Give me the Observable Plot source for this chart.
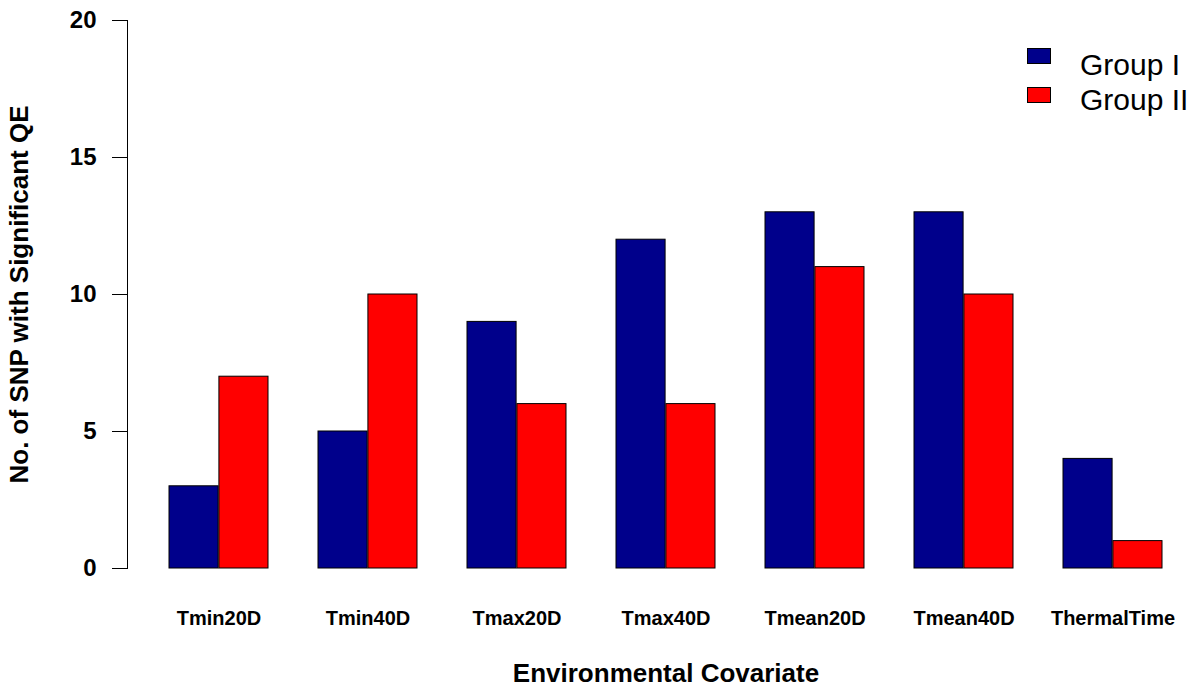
<!DOCTYPE html>
<html>
<head>
<meta charset="utf-8">
<script src="https://cdn.jsdelivr.net/npm/d3@7"></script>
<script src="https://cdn.jsdelivr.net/npm/@observablehq/plot@0.6"></script>
<style>
  body { margin: 0; background: #fff; }
  #wrap { position: relative; width: 1198px; height: 692px; font-family: "Liberation Sans", Arial, sans-serif; }
  .sw { position: absolute; width: 22px; height: 14px; border: 1px solid #000; }
  .lt { position: absolute; font-size: 30px; line-height: 30px; color: #000; white-space: nowrap; }
</style>
</head>
<body>
<div id="wrap"></div>
<script>
// ---- data ----
const covariates = ["Tmin20D", "Tmin40D", "Tmax20D", "Tmax40D", "Tmean20D", "Tmean40D", "ThermalTime"];
const groups = ["Group I", "Group II"];
const groupI = [3, 5, 9, 12, 13, 13, 4];
const groupII = [7, 10, 6, 6, 11, 10, 1];
const yTicks = [0, 5, 10, 15, 20];
const colors = ["#00008B", "#FF0000"];
const xTitle = "Environmental Covariate";
const yTitle = "No. of SNP with Significant QE";

const data = covariates.flatMap((c, i) => [
  {covariate: c, group: groups[0], value: groupI[i]},
  {covariate: c, group: groups[1], value: groupII[i]}
]);

// ---- layout ----
const W = 1198, H = 692;
const xRange = [127, 1205];          // plot region (extends slightly past the right edge, as in the original)
const padIn = 1 / 3, padOut = 0.8 / 3;
const step = (xRange[1] - xRange[0]) / (covariates.length - padIn + 2 * padOut);
const half = step * (1 - padIn) / 2;

const plot = Plot.plot({
  width: W, height: H,
  marginLeft: 127, marginRight: 0, marginTop: 20, marginBottom: 124,
  style: {fontFamily: "Liberation Sans, Arial, sans-serif", color: "black", background: "white"},
  x: {domain: covariates, range: xRange, paddingInner: padIn, paddingOuter: padOut, axis: null},
  y: {domain: [0, 20], axis: null},
  color: {domain: groups, range: colors},
  marks: [
    Plot.barY(data.filter(d => d.group === groups[0]),
      {x: "covariate", y: "value", fill: "group", stroke: "black", strokeWidth: 1, insetLeft: 0, insetRight: half}),
    Plot.barY(data.filter(d => d.group === groups[1]),
      {x: "covariate", y: "value", fill: "group", stroke: "black", strokeWidth: 1, insetLeft: half, insetRight: 0}),
    Plot.frame({anchor: "left", stroke: "black"}),
    Plot.axisY({ticks: yTicks, tickSize: 15, tickPadding: 16, fontSize: 24, fontWeight: "bold", label: null}),
    Plot.axisX({tickSize: 0, tickPadding: 42, fontSize: 20, fontWeight: "bold", label: null}),
    Plot.text([xTitle], {text: d => d, frameAnchor: "bottom", lineAnchor: "top", dy: 95, dx: 3, fontSize: 26, fontWeight: "bold"}),
    Plot.text([yTitle], {text: d => d, frameAnchor: "left", textAnchor: "middle", lineAnchor: "middle", rotate: -90, dx: -108, fontSize: 26, fontWeight: "bold"})
  ]
});

const wrap = document.getElementById("wrap");
wrap.appendChild(plot);

// ---- legend (top right, inside plot) ----
const legendRows = [
  {swTop: 48, txtTop: 50},
  {swTop: 87, txtTop: 85}
];
groups.forEach((g, i) => {
  const sw = document.createElement("div");
  sw.className = "sw";
  sw.style.left = "1027px";
  sw.style.top = legendRows[i].swTop + "px";
  sw.style.background = colors[i];
  wrap.appendChild(sw);
  const t = document.createElement("div");
  t.className = "lt";
  t.style.left = "1080px";
  t.style.top = legendRows[i].txtTop + "px";
  t.textContent = g;
  wrap.appendChild(t);
});
</script>
</body>
</html>
